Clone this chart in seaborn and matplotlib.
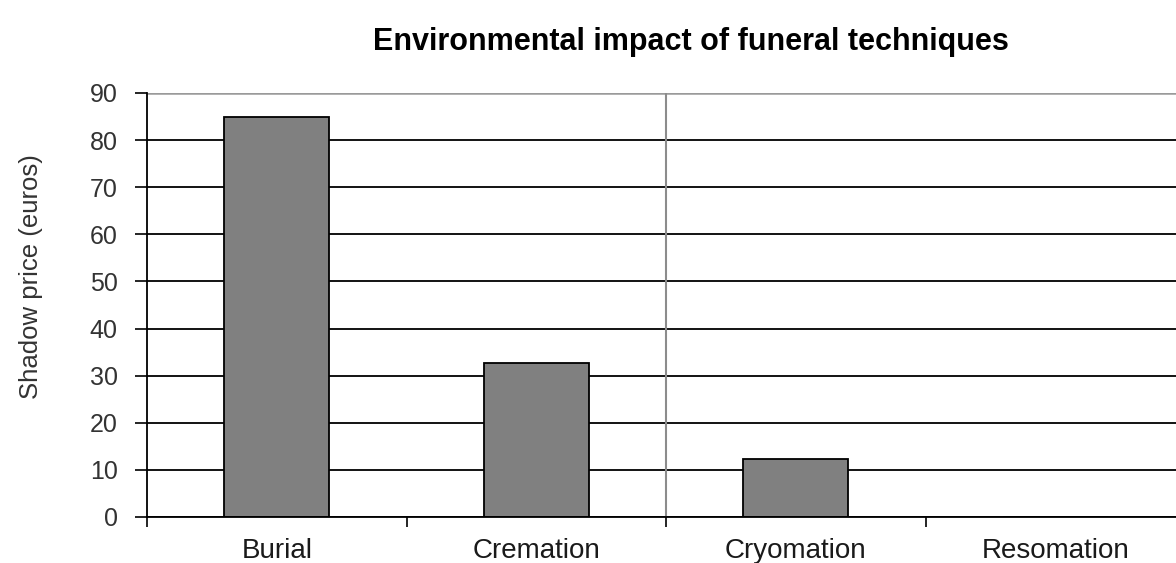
import matplotlib
matplotlib.use("Agg")
import matplotlib.pyplot as plt
import seaborn as sns
import pandas as pd

# Shadow price per funeral technique (euros)
techniques = ["Burial", "Cremation", "Cryomation", "Resomation"]
shadow_price = [85.0, 32.6, 12.3, 0.0]
y_ticks = [0, 10, 20, 30, 40, 50, 60, 70, 80, 90]

df = pd.DataFrame({"technique": techniques, "price": shadow_price})

sns.set_style("white")
plt.rcParams["font.family"] = ["Liberation Sans", "DejaVu Sans"]

fig = plt.figure(figsize=(11.76, 5.63), dpi=100)
ax = fig.add_axes([147 / 1176, 46 / 563, (1185 - 147) / 1176, (517 - 93) / 563])

# horizontal gridlines behind the bars
for v in y_ticks[:-1]:
    ax.axhline(v, color="black", lw=1.3, zorder=0)
ax.axhline(90, color="#9a9a9a", lw=1.8, zorder=0)

sns.barplot(data=df, x="technique", y="price", color="#808080",
            edgecolor="black", linewidth=1.3, width=0.405, saturation=1,
            ax=ax, zorder=2)

ax.axvline(1.5, color="#8c8c8c", lw=1.5, zorder=1)

ax.set_ylim(0, 90)
ax.set_xlim(-0.5, 3.5)
ax.set_yticks(y_ticks)
ax.set_yticklabels([str(t) for t in y_ticks], fontsize=18, color="#333333")

# category tick marks sit on the category boundaries
ax.set_xticks([-0.5, 0.5, 1.5, 2.5])
ax.set_xticklabels([])
ax.tick_params(axis="x", direction="out", length=7, width=1.2, color="black", bottom=True)
ax.tick_params(axis="y", direction="out", length=9, width=1.2, color="black", left=True, pad=12)
for i, name in enumerate(techniques):
    ax.text(i, -8.8, name, ha="center", va="baseline", fontsize=20, color="#1a1a1a")

for side in ["top", "right"]:
    ax.spines[side].set_visible(False)
ax.spines["left"].set_color("black")
ax.spines["left"].set_linewidth(1.3)
ax.spines["bottom"].set_color("black")
ax.spines["bottom"].set_linewidth(1.3)

ax.set_xlabel("")
ax.set_ylabel("")
fig.text(31 / 1176, 1 - 277 / 563, "Shadow price (euros)", rotation=90,
         ha="center", va="center", fontsize=18.5, color="#333333")

fig.text(691 / 1176, 1 - 42 / 563, "Environmental impact of funeral techniques",
         ha="center", va="center", fontsize=22, fontweight="bold", color="black")

fig.savefig("out.png", dpi=100, facecolor="white")
